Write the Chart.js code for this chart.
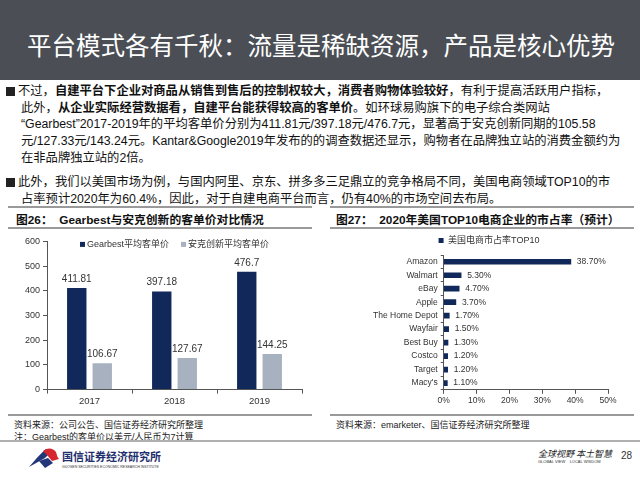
<!DOCTYPE html>
<html>
<head>
<meta charset="utf-8">
<script src="https://cdn.jsdelivr.net/npm/chart.js@4.4.0/dist/chart.umd.min.js"></script>
<style>
  body { margin: 0; width: 640px; height: 480px; position: relative; overflow: hidden; background: #fff;
         font-family: "Liberation Sans", "Noto Sans CJK SC", sans-serif; color: #111; }
  .band { position: absolute; left: 0; top: 0; width: 640px; height: 80px; background: #4b4f55; }
  .title { position: absolute; left: 27px; top: 27px; color: #fff; font-size: 24.5px; white-space: nowrap;
           font-family: "Noto Sans CJK SC", sans-serif; }
  .body { position: absolute; left: 6px; font-size: 12.3px; line-height: 16.7px; white-space: nowrap;
          font-family: "Liberation Sans", "Noto Sans CJK SC", sans-serif; }
  .body b { font-weight: bold; }
  .ind { padding-left: 15px; }
  .sq { display: inline-block; width: 9px; height: 9px; background: #222; margin-right: 3px; vertical-align: -1px; }
  .line { position: absolute; height: 2px; background: #9a9a9a; }
  .ptitle { position: absolute; font-size: 11.8px; font-weight: bold; white-space: nowrap;
            font-family: "Liberation Sans", "Noto Sans CJK SC", sans-serif; }
  .src { position: absolute; font-size: 9px; white-space: nowrap; color: #222; }
  .box { position: absolute; }
</style>
</head>
<body>
<div class="band"></div>
<div class="title">平台模式各有千秋：流量是稀缺资源，产品是核心优势</div>

<div class="body" style="top:83px">
  <div><span class="sq"></span>不过，<b>自建平台下企业对商品从销售到售后的控制权较大，消费者购物体验较好</b>，有利于提高活跃用户指标，</div>
  <div class="ind">此外，<b>从企业实际经营数据看，自建平台能获得较高的客单价</b>。如环球易购旗下的电子综合类网站</div>
  <div class="ind">“Gearbest”2017-2019年的平均客单价分别为411.81元/397.18元/476.7元，显著高于安克创新同期的105.58</div>
  <div class="ind">元/127.33元/143.24元。Kantar&amp;Google2019年发布的的调查数据还显示，购物者在品牌独立站的消费金额约为</div>
  <div class="ind">在非品牌独立站的2倍。</div>
</div>
<div class="body" style="top:174px">
  <div><span class="sq"></span>此外，我们以美国市场为例，与国内阿里、京东、拼多多三足鼎立的竞争格局不同，美国电商领域TOP10的市</div>
  <div class="ind">占率预计2020年为60.4%，因此，对于自建电商平台而言，仍有40%的市场空间去布局。</div>
</div>

<!-- left panel -->
<div class="line" style="left:8px; top:206px; width:304px;"></div>
<div class="ptitle" style="left:16px; top:210px;">图26：&nbsp; Gearbest与安克创新的客单价对比情况</div>
<div class="line" style="left:8px; top:227px; width:304px;"></div>
<div class="box" style="left:8px; top:233px; width:302px; height:176px;"><canvas id="left"></canvas></div>
<div class="line" style="left:8px; top:414px; width:304px;"></div>
<div class="src" style="left:14px; top:418px;">资料来源：公司公告、国信证券经济研究所整理</div>
<div class="src" style="left:14px; top:430px;">注：Gearbest的客单价以美元/人民币为7计算</div>

<!-- right panel -->
<div class="line" style="left:330px; top:206px; width:304px;"></div>
<div class="ptitle" style="left:336px; top:210px;">图27：&nbsp; 2020年美国TOP10电商企业的市占率（预计）</div>
<div class="line" style="left:330px; top:227px; width:304px;"></div>
<div class="box" style="left:330px; top:234px; width:302px; height:174px;"><canvas id="right"></canvas></div>
<div class="line" style="left:330px; top:414px; width:304px;"></div>
<div class="src" style="left:336px; top:418px;">资料来源：emarketer、国信证券经济研究所整理</div>

<!-- footer -->
<div class="line" style="left:0; top:440px; width:640px; height:2px; background:#b0b0b0;"></div>
<svg class="box" style="left:28px; top:446px;" width="32" height="24" viewBox="0 0 32 24">
  <path d="M1 21 C7 14 12 8 18 3 L22 7 L17 12 Z" fill="#24367a"/>
  <path d="M15 5 C20 1 25 2 28 6 C29 9 29 11 31 13 L24 15 L19 9 Z" fill="#d6262e"/>
  <path d="M11 15 L20 12 L25 17 L17 22 Z" fill="#24367a"/>
</svg>
<div class="src" style="left:62px; top:448px; font-size:11px; font-weight:bold; color:#1f2f6e; font-family:'Noto Sans CJK SC';">国信证券经济研究所</div>
<div class="src" style="left:62px; top:465px; font-size:3.5px; color:#333;">GUOSEN SECURITIES ECONOMIC RESEARCH INSTITUTE</div>
<div class="src" style="left:538px; top:447px; font-size:9px; font-style:italic; font-family:'Noto Sans CJK SC';">全球视野 本土智慧</div>
<div class="src" style="left:538px; top:459px; font-size:4px; color:#333;">GLOBAL VIEW &nbsp;&nbsp; LOCAL WISDOM</div>
<div class="src" style="left:621px; top:450px; font-size:10px; color:#333;">28</div>

<script>
const years = ["2017", "2018", "2019"];
const gearbestPrice = [411.81, 397.18, 476.7];
const ankerPrice = [106.67, 127.67, 144.25];
const priceTicks = [0, 100, 200, 300, 400, 500, 600];

const companies = ["Amazon", "Walmart", "eBay", "Apple", "The Home Depot", "Wayfair", "Best Buy", "Costco", "Target", "Macy's"];
const marketShare = [38.7, 5.3, 4.7, 3.7, 1.7, 1.5, 1.3, 1.2, 1.2, 1.1];
const shareTicks = [0, 10, 20, 30, 40, 50];

const navy = "#10295a";
const grayBar = "#a7b1c0";
const axisColor = "#555";
const textColor = "#333";
Chart.defaults.font.family = "'Liberation Sans', 'Noto Sans CJK SC', sans-serif";
Chart.defaults.color = textColor;

// value labels drawn next to the bars
const valueLabels = {
  id: "valueLabels",
  afterDatasetsDraw(chart, args, opts) {
    const ctx = chart.ctx;
    ctx.save();
    ctx.font = opts.font;
    ctx.fillStyle = textColor;
    chart.data.datasets.forEach((ds, i) => {
      chart.getDatasetMeta(i).data.forEach((bar, j) => {
        const txt = opts.format(ds.data[j]);
        if (opts.horizontal) {
          ctx.textAlign = "left";
          ctx.textBaseline = "middle";
          ctx.fillText(txt, bar.x + 6, bar.y);
        } else {
          ctx.textAlign = "center";
          ctx.textBaseline = "bottom";
          ctx.fillText(txt, bar.x, bar.y - 4);
        }
      });
    });
    ctx.restore();
  }
};

// legend laid over the top of the plot area
const innerLegend = {
  id: "innerLegend",
  afterDraw(chart) {
    const ctx = chart.ctx;
    const area = chart.chartArea;
    ctx.save();
    ctx.font = "9px 'Liberation Sans', 'Noto Sans CJK SC'";
    ctx.textBaseline = "middle";
    ctx.textAlign = "left";
    const items = chart.data.datasets.map(ds => ({ text: ds.label, color: ds.backgroundColor }));
    const gap = 12, box = 5;
    const widths = items.map(it => box + 2 + ctx.measureText(it.text).width);
    const total = widths.reduce((a, b) => a + b, 0) + gap * (items.length - 1);
    let x = (area.left + area.right) / 2 - total / 2;
    const y = area.top + 3;
    items.forEach((it, i) => {
      ctx.fillStyle = it.color;
      ctx.fillRect(x, y - box / 2, box, box);
      ctx.fillStyle = textColor;
      ctx.fillText(it.text, x + box + 2, y);
      x += widths[i] + gap;
    });
    ctx.restore();
  }
};

new Chart(document.getElementById("left"), {
  type: "bar",
  data: {
    labels: years,
    datasets: [
      { label: "Gearbest平均客单价", data: gearbestPrice, backgroundColor: navy,
        categoryPercentage: 0.6, barPercentage: 0.76 },
      { label: "安克创新平均客单价", data: ankerPrice, backgroundColor: grayBar,
        categoryPercentage: 0.6, barPercentage: 0.76 }
    ]
  },
  plugins: [valueLabels, innerLegend],
  options: {
    responsive: true,
    maintainAspectRatio: false,
    animation: false,
    layout: { padding: { left: 14, right: 8, top: 2, bottom: 0 } },
    plugins: {
      legend: { display: false },
      tooltip: { enabled: false },
      valueLabels: { font: "10px 'Liberation Sans'", format: v => String(v) }
    },
    scales: {
      x: {
        grid: { drawOnChartArea: false, drawTicks: true, tickLength: 4, color: axisColor },
        border: { color: axisColor },
        ticks: { font: { size: 9.5 }, color: textColor, padding: 2 }
      },
      y: {
        min: 0, max: 600,
        afterBuildTicks: axis => { axis.ticks = priceTicks.map(v => ({ value: v })); },
        grid: { drawOnChartArea: false, drawTicks: true, tickLength: 4, color: axisColor },
        border: { color: axisColor },
        ticks: { font: { size: 9 }, color: textColor, padding: 3 }
      }
    }
  }
});

new Chart(document.getElementById("right"), {
  type: "bar",
  data: {
    labels: companies,
    datasets: [
      { label: "美国电商市占率TOP10", data: marketShare, backgroundColor: navy, barThickness: 5 }
    ]
  },
  plugins: [valueLabels],
  options: {
    indexAxis: "y",
    responsive: true,
    maintainAspectRatio: false,
    animation: false,
    layout: { padding: { left: 40, right: 24, top: 0, bottom: 0 } },
    plugins: {
      legend: {
        position: "top",
        align: "center",
        labels: { boxWidth: 5, boxHeight: 5, padding: 2, font: { size: 9 }, color: textColor }
      },
      tooltip: { enabled: false },
      valueLabels: { horizontal: true, font: "8.5px 'Liberation Sans'", format: v => v.toFixed(2) + "%" }
    },
    scales: {
      x: {
        min: 0, max: 50,
        afterBuildTicks: axis => { axis.ticks = shareTicks.map(v => ({ value: v })); },
        grid: { drawOnChartArea: false, drawTicks: true, tickLength: 4, color: axisColor },
        border: { color: axisColor },
        ticks: { font: { size: 8.5 }, color: textColor, padding: 2, callback: v => v + "%" }
      },
      y: {
        grid: { drawOnChartArea: false, drawTicks: true, tickLength: 3, color: axisColor },
        border: { color: axisColor },
        ticks: { font: { size: 8.5 }, color: textColor, padding: 3, autoSkip: false }
      }
    }
  }
});
</script>
</body>
</html>
